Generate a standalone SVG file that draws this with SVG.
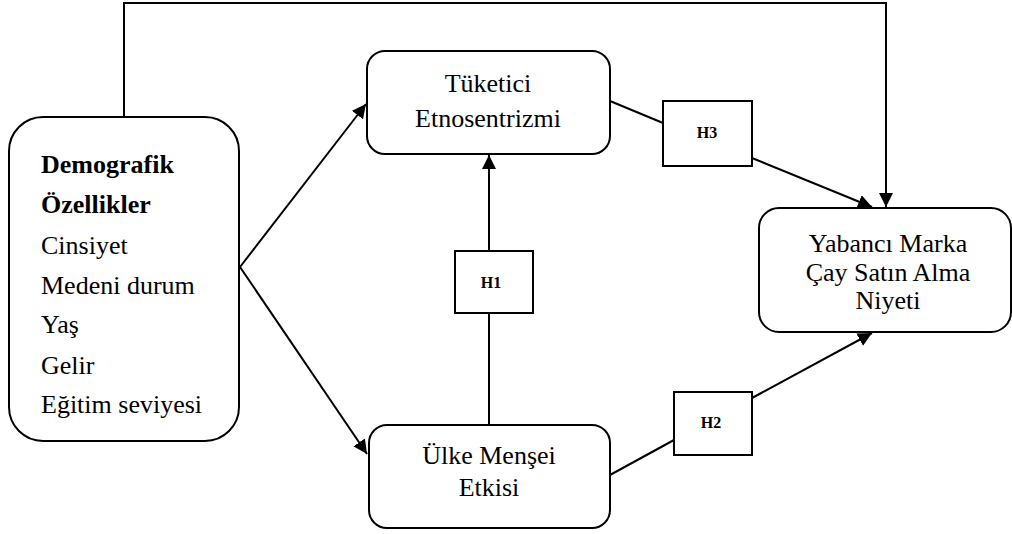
<svg xmlns="http://www.w3.org/2000/svg" width="1012" height="534" viewBox="0 0 1012 534">
<style>
.box{fill:#fff;stroke:#000;stroke-width:2}
.ln{fill:none;stroke:#000;stroke-width:2}
text{font-family:'Liberation Serif','Times New Roman',Times,serif;fill:#000}
.t{font-size:26px}
.c{text-anchor:middle}
.b{font-weight:bold}
.h{font-size:16px;font-weight:bold;text-anchor:middle}
</style>
<defs>
<marker id="ah" viewBox="0 0 14 14" refX="14" refY="7" markerWidth="14" markerHeight="14" markerUnits="userSpaceOnUse" orient="auto">
<path d="M0,0 L14,7 L0,14 Z" fill="#000"/>
</marker>
</defs>
<g id="connectors">
<path class="ln" d="M124,117 V3 H886 V207" marker-end="url(#ah)"/>
<path class="ln" d="M240,267 L366,104" marker-end="url(#ah)"/>
<path class="ln" d="M240,267 L367,454" marker-end="url(#ah)"/>
<path class="ln" d="M489,424 V313"/>
<path class="ln" d="M489,251 V155" marker-end="url(#ah)"/>
<path class="ln" d="M610,101 L663,123"/>
<path class="ln" d="M752,158 L872,207" marker-end="url(#ah)"/>
<path class="ln" d="M610,475 L674,440"/>
<path class="ln" d="M752,398 L872,333" marker-end="url(#ah)"/>
</g>
<g id="demografik">
<rect class="box" x="9" y="117" width="230" height="324" rx="34"/>
<text class="t b" x="41" y="173">Demografik</text>
<text class="t b" x="41" y="213">Özellikler</text>
<text class="t" x="41" y="254">Cinsiyet</text>
<text class="t" x="41" y="294">Medeni durum</text>
<text class="t" x="41" y="333">Yaş</text>
<text class="t" x="41" y="374">Gelir</text>
<text class="t" x="41" y="413">Eğitim seviyesi</text>
</g>
<g id="tuketici">
<rect class="box" x="367" y="51" width="243" height="103" rx="18"/>
<text class="t c" x="488" y="92">Tüketici</text>
<text class="t c" x="488" y="127">Etnosentrizmi</text>
</g>
<g id="ulke">
<rect class="box" x="369" y="425" width="241" height="103" rx="18"/>
<text class="t c" x="489" y="464">Ülke Menşei</text>
<text class="t c" x="489" y="496">Etkisi</text>
</g>
<g id="yabanci">
<rect class="box" x="759" y="208" width="252" height="124" rx="20"/>
<text class="t c" x="888" y="252">Yabancı Marka</text>
<text class="t c" x="888" y="281">Çay Satın Alma</text>
<text class="t c" x="888" y="309">Niyeti</text>
</g>
<g id="h1">
<rect class="box" x="455" y="251" width="78" height="62"/>
<text class="h" x="491" y="288">H1</text>
</g>
<g id="h3">
<rect class="box" x="663" y="101" width="89" height="65"/>
<text class="h" x="707" y="138">H3</text>
</g>
<g id="h2">
<rect class="box" x="674" y="392" width="78" height="63"/>
<text class="h" x="711" y="428">H2</text>
</g>
</svg>
